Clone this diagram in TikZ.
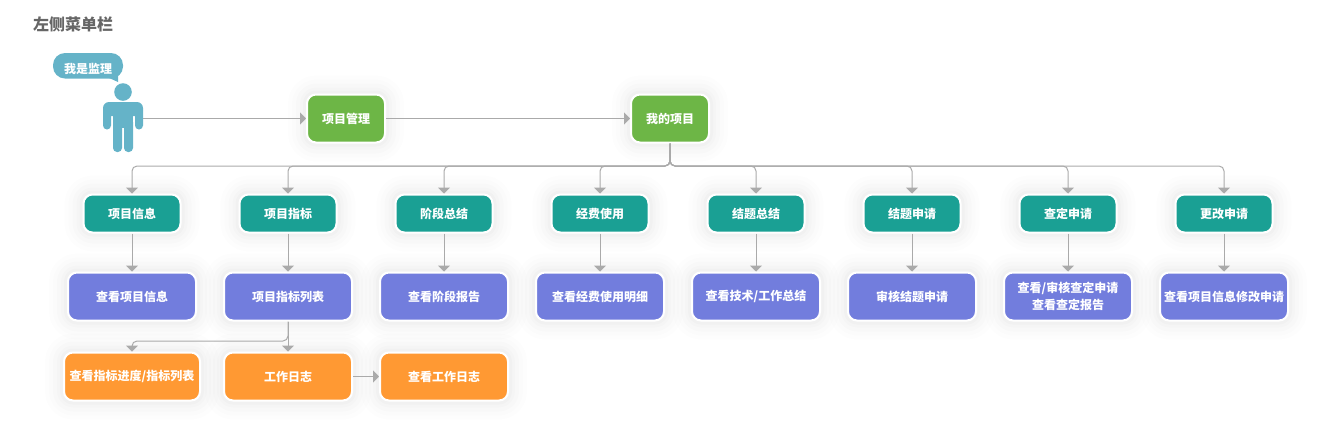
\documentclass[tikz,border=0pt]{standalone}
\usepackage{fontspec}
\usepackage{xcolor}
\setmainfont{Noto Sans CJK SC}
\usetikzlibrary{arrows.meta}
\definecolor{leafgreen}{HTML}{6DB646}
\definecolor{menuteal}{HTML}{1AA094}
\definecolor{pagepurple}{HTML}{727DDD}
\definecolor{workorange}{HTML}{FF9933}
\definecolor{personblue}{HTML}{65B3C8}
\definecolor{linegray}{HTML}{AAAAAA}
\definecolor{titlegray}{HTML}{666666}

\begin{document}
\begin{tikzpicture}[x=1pt,y=-1pt]
        \tikzset{glow/.style={preaction={draw=black,draw opacity=.007,line width=38pt,line join=round},
                preaction={draw=black,draw opacity=.008,line width=30pt,line join=round},
                preaction={draw=black,draw opacity=.01,line width=22pt,line join=round},
                preaction={draw=black,draw opacity=.012,line width=14pt,line join=round},
                preaction={draw=black,draw opacity=.014,line width=8pt,line join=round}},
            box/.style={glow,draw=white,line width=2pt,rounded corners=9pt,inner sep=0pt,text=white,
                align=center,font=\fontsize{12}{17}\selectfont\bfseries},
            top/.style={box,fill=leafgreen,minimum width=78pt,minimum height=48pt},
            menu/.style={box,fill=menuteal,minimum width=97pt,minimum height=38pt},
            page/.style={box,fill=pagepurple,minimum width=128pt,minimum height=48pt},
            work/.style={box,fill=workorange,minimum width=128pt,minimum height=48pt},
            link/.style={draw=linegray,line width=1pt,-{Triangle[length=6pt,width=12pt,fill=linegray]}},
            turn/.style={link,rounded corners=5pt},
            man/.style={fill=personblue}}
        \useasboundingbox (0,0) rectangle (1340,424);
        \node[anchor=west,inner sep=0pt,text=titlegray,font=\fontsize{16}{20}\selectfont\bfseries] (title) at (33,24) {左侧菜单栏};

        \fill[man,rounded corners=12pt] (53,53) rectangle (123,78.5);
        \fill[man] (118,70) -- (118,82) -- (107,77) -- cycle;
        \node[text=white,font=\fontsize{12}{15}\selectfont\bfseries] (say) at (88,68.5) {我是监理};
        \fill[man] (123,92) circle[radius=8.8];
        \fill[man,rounded corners=6pt] (103,102) rectangle (143,116);
        \fill[man,rounded corners=4pt] (103,106) rectangle (111,129.5);
        \fill[man,rounded corners=4pt] (135,106) rectangle (143,129.5);
        \fill[man] (113,102) rectangle (133,128);
        \fill[man,rounded corners=4pt] (113,118) rectangle (122,152);
        \fill[man,rounded corners=4pt] (124,118) rectangle (133,152);
        \coordinate (person) at (143,118.5);

        \node[top] (manage) at (346,118.5) {项目管理};
        \node[top] (mine) at (670,118.5) {我的项目};
        \coordinate (bus) at (670,166);
        \coordinate (bustwo) at (288,341);

        \foreach \name/\x/\menutext/\pagetext in {a/132/项目信息/查看项目信息,
                b/288/项目指标/项目指标列表,
                c/444/阶段总结/查看阶段报告,
                d/600/经费使用/查看经费使用明细,
                e/756/结题总结/{查看技术/工作总结},
                f/912/结题申请/审核结题申请,
                g/1068/查定申请/{查看/审核查定申请\\查看查定报告},
                h/1224/更改申请/查看项目信息修改申请}{
            \node[menu] (menu\name) at (\x,213.5) {\menutext};
            \node[page] (page\name) at (\x,296.5) {\pagetext};
            \draw[turn] (mine.south) |- (menu\name.north |- bus) -- (menu\name.north);
            \draw[link] (menu\name.south) -- (page\name.north);
        }

        \node[work,minimum width=136pt] (progress) at (132,376.5) {查看指标进度/指标列表};
        \node[work] (log) at (288,376.5) {工作日志};
        \node[work] (viewlog) at (444,376.5) {查看工作日志};

        \draw[link] (person) -- (manage.west);
        \draw[link] (manage.east) -- (mine.west);
        \draw[turn] (pageb.south) |- (progress.north |- bustwo) -- (progress.north);
        \draw[link] (pageb.south) -- (log.north);
        \draw[link] (log.east) -- (viewlog.west);
    \end{tikzpicture}
\end{document}
